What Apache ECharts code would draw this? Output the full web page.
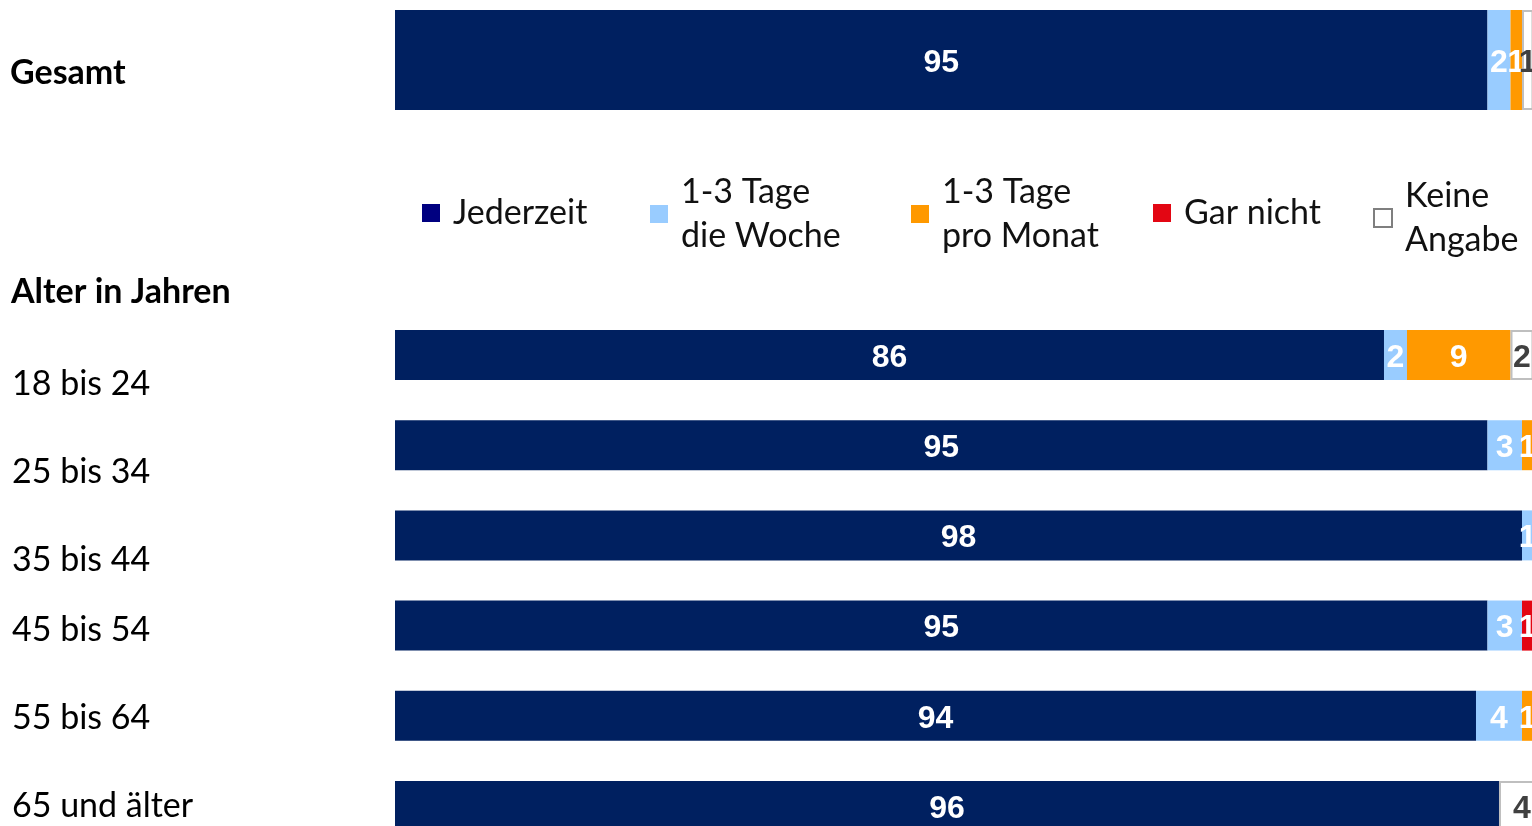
<!DOCTYPE html>
<html>
<head>
<meta charset="utf-8">
<script src="https://cdn.jsdelivr.net/npm/echarts@6/dist/echarts.min.js"></script>
<style>
  html, body { margin: 0; padding: 0; background: #fff; }
  #main { width: 1532px; height: 826px; }
</style>
</head>
<body>
<div id="main"></div>
<script>
// Kategorien
var totalCategory = ['Gesamt'];
var ageCategories = ['18 bis 24', '25 bis 34', '35 bis 44', '45 bis 54', '55 bis 64', '65 und älter'];
var seriesNames = ['Jederzeit', '1-3 Tage\ndie Woche', '1-3 Tage\npro Monat', 'Gar nicht', 'Keine\nAngabe'];

// Werte in Prozent (Gesamt)
var totalJederzeit = [95];
var totalWoche = [2];
var totalMonat = [1];
var totalGarNicht = [0];
var totalKeine = [1];

// Werte in Prozent (Alter)
var ageJederzeit = [86, 95, 98, 95, 94, 96];
var ageWoche = [2, 3, 1, 3, 4, 0];
var ageMonat = [9, 1, 0, 0, 1, 0];
var ageGarNicht = [0, 0, 0, 1, 0, 0];
var ageKeine = [2, 1, 1, 1, 1, 4];

var colors = ['#002060', '#99CCFF', '#FF9900', '#E30613', '#FFFFFF'];
var labelFont = 'Liberation Sans, Arial, sans-serif';
var textFont = 'Lato, sans-serif';

// Achse endet am rechten Rand (Bild ist dort abgeschnitten)
var axisMax = 98.87;

var chart = echarts.init(document.getElementById('main'));

function makeSeries(name, idx, data, axis, width) {
  var isKeine = idx === 4;
  return {
    name: name,
    type: 'bar',
    stack: 'g' + axis,
    xAxisIndex: axis,
    yAxisIndex: axis,
    barWidth: width,
    clip: false,
    data: data,
    itemStyle: {
      color: colors[idx],
      borderColor: isKeine ? '#BFBFBF' : colors[idx],
      borderWidth: isKeine ? 2 : 0
    },
    label: {
      show: true,
      position: 'inside',
      offset: [0, 3],
      color: isKeine ? '#404040' : '#fff',
      fontFamily: labelFont,
      fontWeight: 'bold',
      fontSize: 32,
      formatter: function (p) { return p.value > 0 ? p.value : ''; }
    },
    emphasis: { disabled: true },
    animation: false
  };
}

var totalData = [totalJederzeit, totalWoche, totalMonat, totalGarNicht, totalKeine];
var ageData = [ageJederzeit, ageWoche, ageMonat, ageGarNicht, ageKeine];

var series = [];
seriesNames.forEach(function (n, i) {
  series.push(makeSeries(n, i, totalData[i], 0, 100));
});
seriesNames.forEach(function (n, i) {
  series.push(makeSeries(n, i, ageData[i], 1, 50));
});

// einzelne Legenden-Einträge
var legendLeft = [422, 650, 911, 1153, 1373];
var legendTop = [191, 170, 170, 191, 174];
var legendIconColors = ['#000080', '#99CCFF', '#FF9900', '#E30613', '#FFFFFF'];
var legends = seriesNames.map(function (n, i) {
  return {
    left: legendLeft[i],
    top: legendTop[i],
    padding: 0,
    icon: 'rect',
    itemWidth: 18,
    itemHeight: 18,
    selectedMode: false,
    data: [{
      name: n,
      itemStyle: {
        color: legendIconColors[i],
        borderColor: i === 4 ? '#7F7F7F' : legendIconColors[i],
        borderWidth: i === 4 ? 2 : 0
      }
    }],
    textStyle: {
      fontFamily: textFont,
      fontSize: 34,
      color: '#111',
      lineHeight: 44,
      padding: [0, 0, 0, 8]
    }
  };
});

// Beschriftungen links
var labelTops = [72, 383, 471, 559, 629, 717, 805];
var leftTexts = [
  { text: totalCategory[0], x: 10, y: labelTops[0], bold: true },
  { text: 'Alter in Jahren', x: 11, y: 291, bold: true }
];
ageCategories.forEach(function (c, i) {
  leftTexts.push({ text: c, x: 12, y: labelTops[i + 1], bold: false });
});

chart.setOption({
  backgroundColor: '#fff',
  animation: false,
  legend: legends,
  grid: [
    { left: 395, right: 0, top: 10, height: 100 },
    { left: 395, right: 0, top: 355, height: 451 }
  ],
  xAxis: [
    { type: 'value', gridIndex: 0, min: 0, max: axisMax, show: false },
    { type: 'value', gridIndex: 1, min: 0, max: axisMax, show: false }
  ],
  yAxis: [
    { type: 'category', gridIndex: 0, data: totalCategory, show: false },
    { type: 'category', gridIndex: 1, data: ageCategories, inverse: true, boundaryGap: false, show: false }
  ],
  graphic: leftTexts.map(function (t) {
    return {
      type: 'text',
      left: t.x,
      top: t.y - 16,
      style: {
        text: t.text,
        fill: '#000',
        font: (t.bold ? 'bold ' : '') + '34px ' + textFont
      }
    };
  }),
  series: series
});
</script>
</body>
</html>
